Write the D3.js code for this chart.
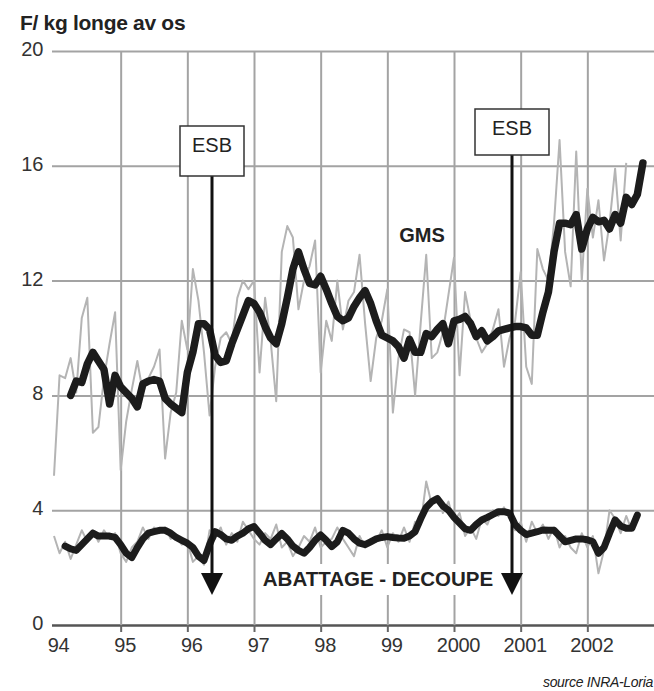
<!DOCTYPE html>
<html><head><meta charset="utf-8">
<script src="https://cdn.jsdelivr.net/npm/d3@7"></script>
<style>
body{margin:0;background:#fff;}
text{font-family:"Liberation Sans",Arial,Helvetica,sans-serif;}
</style></head>
<body><svg id="c" width="654" height="691"></svg>
<script>
// ---- data ----
const yearTicks = [1994,1995,1996,1997,1998,1999,2000,2001,2002];
const yearLabels = ["94","95","96","97","98","99","2000","2001","2002"];
const valueTicks = [0,4,8,12,16,20];
// monthly series; first month index (months after Jan 1994)
const gmsRawStart = 0;
const gmsRaw = [5.2,8.7,8.6,9.3,8.1,10.7,11.4,6.7,6.9,8.6,9.8,10.9,
 5.4,7.1,8.2,9.2,8.1,8.6,9.0,9.6,5.8,7.4,8.1,10.6,
 9.6,12.4,11.3,9.5,7.3,9.0,10.0,10.2,9.8,11.4,12.0,11.7,
 12.0,8.8,11.4,9.9,7.8,13.0,13.9,13.5,11.0,12.0,12.5,13.4,
 8.8,10.6,9.9,12.0,10.3,11.3,11.6,12.9,10.5,8.5,10.0,10.6,
 11.7,7.4,9.3,10.3,10.2,8.0,10.5,12.9,9.3,9.5,10.2,11.5,
 12.8,8.7,11.6,10.6,10.0,9.5,9.8,10.3,11.0,9.0,10.0,10.6,
 12.3,9.0,8.4,13.1,12.4,12.0,14.0,16.9,13.0,11.8,16.5,12.0,
 15.2,13.5,14.8,12.7,14.0,15.9,13.4,16.1];
const gmsSmoothStart = 3;
const gmsSmooth = [8.0,8.5,8.45,9.1,9.5,9.2,8.9,7.7,8.7,
 8.3,8.1,7.9,7.6,8.4,8.5,8.55,8.5,7.9,7.7,7.55,7.4,
 8.8,9.5,10.5,10.5,10.3,9.4,9.15,9.2,9.8,10.3,10.8,11.3,
 11.2,10.9,10.4,10.0,9.8,10.5,11.4,12.4,13.0,12.4,11.9,11.85,
 12.15,11.7,11.2,10.75,10.6,10.7,11.1,11.4,11.65,11.2,10.6,10.1,
 10.0,9.9,9.7,9.3,9.95,9.5,9.5,10.15,10.05,10.3,10.5,9.8,
 10.6,10.65,10.75,10.5,10.05,10.25,9.9,10.05,10.25,10.3,10.35,10.4,
 10.4,10.35,10.1,10.1,10.9,11.6,13.0,14.0,14.0,13.95,14.3,13.1,
 13.8,14.2,14.05,14.1,13.8,14.3,14.0,14.9,14.65,15.0,16.1];
const abatRawStart = 0;
const abatRaw = [3.1,2.5,2.9,2.3,2.8,3.3,2.9,3.3,2.9,3.3,3.0,3.2,
 2.5,2.2,2.7,2.9,3.4,3.0,3.4,3.2,3.4,3.0,3.1,2.8,
 2.9,2.2,2.4,2.1,3.3,3.0,3.4,2.8,3.2,2.9,3.6,3.3,
 3.0,2.8,3.2,3.0,3.5,2.7,2.9,2.4,2.7,3.1,2.9,3.4,
 2.7,2.9,3.0,3.4,3.0,2.7,2.4,3.1,2.7,3.0,2.9,3.3,
 2.7,3.2,2.9,3.4,2.9,3.6,3.5,5.0,4.2,4.5,3.9,4.3,
 3.6,3.9,3.1,3.4,3.0,3.7,3.5,4.0,3.8,4.1,3.7,3.3,
 3.6,2.9,3.6,3.2,3.5,3.0,3.4,2.7,3.1,2.7,2.5,3.2,
 2.7,3.1,1.8,2.6,4.0,3.7,3.2,3.8,3.3];
const abatSmoothStart = 2;
const abatSmooth = [2.75,2.65,2.6,2.8,3.0,3.2,3.1,3.1,3.1,3.05,
 2.8,2.5,2.35,2.7,3.0,3.2,3.25,3.3,3.3,3.2,3.05,2.95,
 2.85,2.7,2.4,2.25,2.8,3.25,3.15,3.0,2.95,3.1,3.2,3.35,
 3.43,3.2,2.95,2.8,3.0,3.19,3.0,2.75,2.6,2.5,2.7,2.95,
 3.14,2.95,2.73,2.9,3.3,3.2,3.0,2.85,2.8,2.9,3.0,3.05,
 3.08,3.05,3.03,3.02,3.1,3.25,3.7,4.1,4.3,4.4,4.15,4.0,
 3.75,3.55,3.35,3.3,3.5,3.66,3.75,3.85,3.95,3.95,3.9,3.5,
 3.3,3.15,3.2,3.25,3.31,3.3,3.3,3.1,2.9,2.95,3.0,3.0,
 2.97,2.9,2.5,2.7,3.2,3.66,3.45,3.37,3.37,3.83];
const esbDates = [1996.37, 2000.87];
const esbLabels = ["ESB","ESB"];

// ---- drawing ----
const svg = d3.select("#c");
const x = d3.scaleLinear().domain([1994, 2003]).range([54, 654]);
const y = d3.scaleLinear().domain([0, 20]).range([625, 51]);
const toPts = (arr, start) => arr.map((v, i) => [1994 + (start + i) / 12, v]);
const line = d3.line().x(d => x(d[0])).y(d => y(d[1]));

// horizontal grid
const yg = svg.append("g").attr("transform", "translate(52,0)")
  .call(d3.axisLeft(y).tickValues(valueTicks).tickSize(-(654 - 52)).tickPadding(9));
yg.select(".domain").remove();
yg.selectAll(".tick line").attr("stroke", d => d === 0 ? "#555" : "#a3a3a3")
  .attr("stroke-width", d => d === 0 ? 2.5 : 2);
yg.selectAll(".tick text").attr("font-size", 20).attr("fill", "#333")
  .attr("dy", "0.22em").attr("letter-spacing", "-0.3px");

// vertical grid
const xg = svg.append("g").attr("transform", `translate(0,${y(20)})`)
  .call(d3.axisBottom(x).tickValues(yearTicks.slice(1)).tickSize(y(0) - y(20)).tickFormat(""));
xg.select(".domain").remove();
xg.selectAll(".tick line").attr("stroke", "#a3a3a3").attr("stroke-width", 2);

// x axis ticks + labels
const xa = svg.append("g").attr("transform", `translate(0,${y(0)})`)
  .call(d3.axisBottom(x).tickValues(yearTicks).tickSize(7).tickPadding(6)
    .tickFormat((d, i) => yearLabels[i]));
xa.select(".domain").remove();
xa.selectAll(".tick line").attr("stroke", d => d === 1994 ? "none" : "#666").attr("stroke-width", 2);
xa.selectAll(".tick text").attr("font-size", 20).attr("fill", "#333")
  .attr("dx", 4).attr("letter-spacing", "-0.3px");

// label background for ABATTAGE - DECOUPE
svg.append("rect").attr("x", 258).attr("y", 564).attr("width", 241).attr("height", 31).attr("fill", "#fff");

// series
const grey = "#b4b4b4", dark = "#1c1c1c";
svg.append("path").datum(toPts(gmsRaw, gmsRawStart)).attr("d", line)
  .attr("fill", "none").attr("stroke", grey).attr("stroke-width", 2).attr("stroke-linejoin", "round");
svg.append("path").datum(toPts(abatRaw, abatRawStart)).attr("d", line)
  .attr("fill", "none").attr("stroke", grey).attr("stroke-width", 2).attr("stroke-linejoin", "round");
svg.append("path").datum(toPts(gmsSmooth, gmsSmoothStart)).attr("d", line)
  .attr("fill", "none").attr("stroke", dark).attr("stroke-width", 7.5)
  .attr("stroke-linejoin", "round").attr("stroke-linecap", "round");
svg.append("path").datum(toPts(abatSmooth, abatSmoothStart)).attr("d", line)
  .attr("fill", "none").attr("stroke", dark).attr("stroke-width", 7)
  .attr("stroke-linejoin", "round").attr("stroke-linecap", "round");

// ESB arrows
const boxes = [{w: 64, top: 126, h: 50}, {w: 74, top: 109, h: 46}];
esbDates.forEach((d, i) => {
  const cx = x(d), b = boxes[i];
  const tip = 595, headH = 22, headW = 22;
  svg.append("line").attr("x1", cx).attr("x2", cx).attr("y1", b.top + b.h).attr("y2", tip - headH + 2)
    .attr("stroke", "#111").attr("stroke-width", 3);
  svg.append("path").attr("d", `M${cx - headW / 2},${tip - headH}L${cx + headW / 2},${tip - headH}L${cx},${tip}Z`)
    .attr("fill", "#111");
  svg.append("rect").attr("x", cx - b.w / 2).attr("y", b.top).attr("width", b.w).attr("height", b.h)
    .attr("fill", "#fff").attr("stroke", "#333").attr("stroke-width", 1.5);
  svg.append("text").attr("x", cx).attr("y", b.top + 26).attr("text-anchor", "middle")
    .attr("font-size", 20).attr("fill", "#222").text(esbLabels[i]);
});

// labels
svg.append("text").attr("x", 20).attr("y", 30).attr("font-size", 21).attr("font-weight", "bold")
  .attr("fill", "#222").attr("letter-spacing", "-0.3px").text("F/ kg longe av os");
svg.append("text").attr("x", 422).attr("y", 242).attr("text-anchor", "middle").attr("font-size", 20)
  .attr("font-weight", "bold").attr("fill", "#222").text("GMS");
svg.append("text").attr("x", 378).attr("y", 586).attr("text-anchor", "middle").attr("font-size", 20.5)
  .attr("font-weight", "bold").attr("fill", "#222").text("ABATTAGE - DECOUPE");
svg.append("text").attr("x", 653).attr("y", 687).attr("text-anchor", "end").attr("font-size", 14)
  .attr("font-style", "italic").attr("fill", "#222").attr("letter-spacing", "-0.3px").text("source INRA-Loria");
</script></body></html>
